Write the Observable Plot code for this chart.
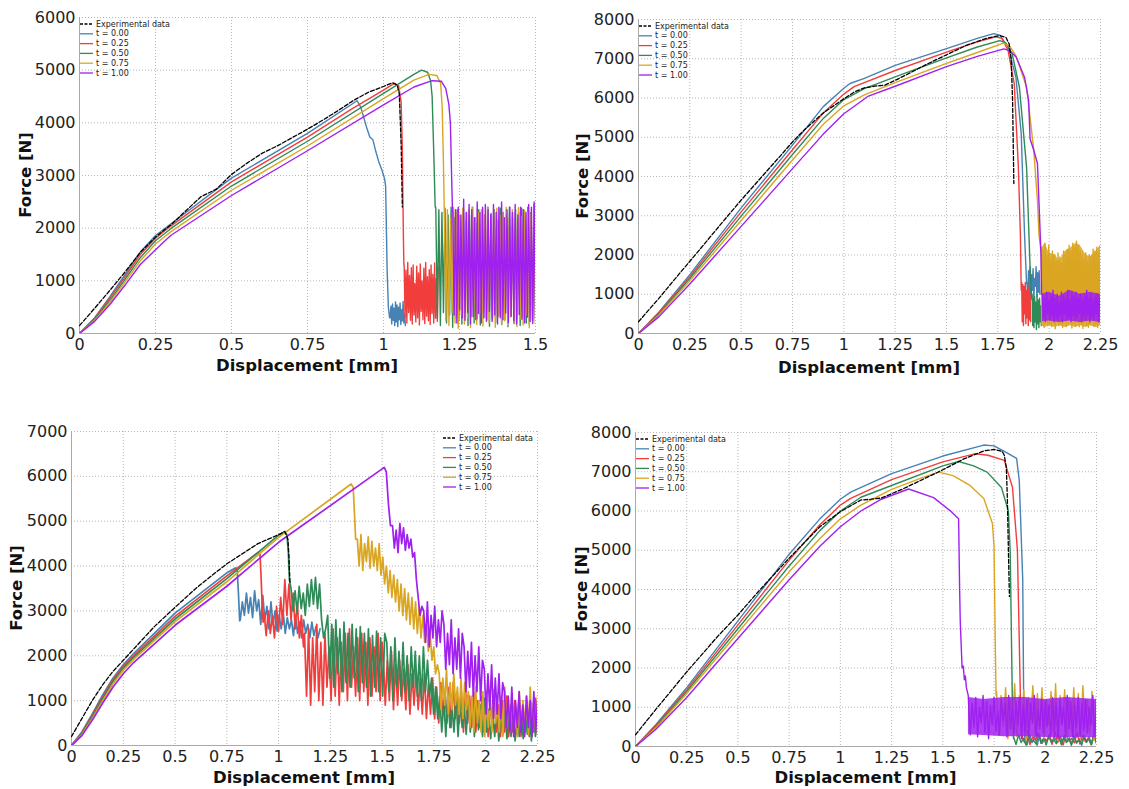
<!DOCTYPE html>
<html><head><meta charset="utf-8">
<script src="https://cdn.jsdelivr.net/npm/d3@7"></script>
<script src="https://cdn.jsdelivr.net/npm/@observablehq/plot@0.6"></script>
<style>
body{margin:0;background:#fff;width:1129px;height:789px;overflow:hidden;position:relative;font-family:"DejaVu Sans",sans-serif;}
.panel{position:absolute;}
</style></head><body>
<div id="p1" class="panel" style="left:0px;top:0px"></div>
<div id="p2" class="panel" style="left:565px;top:0px"></div>
<div id="p3" class="panel" style="left:0px;top:410px"></div>
<div id="p4" class="panel" style="left:565px;top:410px"></div>
<script>
// ---------- shared ----------
const seriesLabels = ["t = 0.00","t = 0.25","t = 0.50","t = 0.75","t = 1.00"];
const expLabel = "Experimental data";
const seriesColors = ["#4682b4","#f23d3d","#2e8b57","#daa520","#a020f0"];
const xTicks15 = [0,0.25,0.5,0.75,1,1.25,1.5];
const xTicks225 = [0,0.25,0.5,0.75,1,1.25,1.5,1.75,2,2.25];
const yTicks6000 = [0,1000,2000,3000,4000,5000,6000];
const yTicks7000 = [0,1000,2000,3000,4000,5000,6000,7000];
const yTicks8000 = [0,1000,2000,3000,4000,5000,6000,7000,8000];
const xTitle = "Displacement [mm]";
const yTitle = "Force [N]";

// ---------- panel 1 (top-left) ----------
const p1Exp = [[0,150],[0.05,480],[0.1,820],[0.15,1170],[0.2,1540],[0.25,1830],[0.3,2060],[0.35,2330],[0.4,2600],[0.45,2740],[0.5,3020],[0.55,3230],[0.6,3420],[0.65,3560],[0.7,3720],[0.75,3880],[0.8,4050],[0.85,4230],[0.9,4420],[0.95,4580],[1.0,4690],[1.03,4760],[1.045,4720],[1.052,4550],[1.058,3600],[1.062,2400]];
const p1T0 = [[0,0],[0.05,300],[0.1,700],[0.15,1120],[0.2,1550],[0.25,1860],[0.3,2080],[0.5,2950],[0.75,3800],[0.913,4420],[0.925,4300],[0.935,4100],[0.945,3900],[0.955,3730],[0.965,3680],[0.975,3450],[0.985,3250],[0.995,3100],[1.003,2950],[1.007,2800],[1.012,1200],[1.016,500],[1.02,300]];
const p1T25 = [[0,0],[0.05,290],[0.1,670],[0.15,1080],[0.2,1500],[0.25,1810],[0.3,2040],[0.5,2880],[0.75,3730],[0.9,4280],[1.0,4620],[1.035,4750],[1.05,4700],[1.058,4400],[1.062,3500],[1.065,2000],[1.067,1300]];
const p1T50 = [[0,0],[0.05,270],[0.1,630],[0.15,1030],[0.2,1440],[0.25,1760],[0.3,1990],[0.5,2800],[0.75,3650],[1.0,4560],[1.1,4920],[1.125,5000],[1.145,4960],[1.155,4800],[1.16,4500],[1.165,3500],[1.17,2400]];
const p1T75 = [[0,0],[0.05,250],[0.1,590],[0.15,980],[0.2,1380],[0.25,1700],[0.3,1930],[0.5,2720],[0.75,3560],[1.0,4460],[1.1,4810],[1.15,4920],[1.175,4900],[1.188,4750],[1.193,4300],[1.197,3300],[1.2,2300]];
const p1T100 = [[0,0],[0.05,230],[0.1,550],[0.15,920],[0.2,1310],[0.27,1700],[0.3,1860],[0.5,2620],[0.75,3470],[1.0,4340],[1.1,4680],[1.16,4800],[1.19,4790],[1.205,4650],[1.215,4350],[1.22,4000],[1.224,3000],[1.227,2300]];
const p1N0 = [300,520,180,560,250,480,150,600,220,540,130,500,260,580,170,450,240,610,200,380,150];
const p1N25 = [1300,300,1200,200,1350,400,1100,250,1250,180,1300,350,950,220,1280,300,1150,160,1320,420,1000,260,1240,190,1350,330,1080,240,1210,170,1300,380,1120,200,1340,290,1050,230,1260];
const p1N50 = [2400,300,2350,150,2300,400,2380,200,2250,350,2400,120,2200,300,2350,250,2150,180,2380,400,2300,150,2250,320,2400,200,2100,280,2350,160,2300,380,2200,230,2400,140,2280,300,2350,210,2150,350,2380,170,2300,260,2250,130,2400,330,2200,190,2350,280,2300,150,2380,310,2250,200,2400,170,2300,260,2450,200];
const p1N75 = [2300,250,2350,150,2200,400,2400,200,2300,100,2250,350,2380,180,2150,300,2350,120,2400,260,2200,170,2300,380,2350,140,2250,300,2400,200,2180,260,2330,120,2380,320,2250,180,2300,240,2400,150,2200,310,2350,190,2280,130,2390,270,2220,160,2340,350,2300,110,2260,240,2400,180];
const p1N100 = [2300,350,2350,200,2400,450,2250,300,2550,250,2300,400,2450,180,2350,320,2200,260,2500,380,2300,200,2400,300,2450,250,2350,420,2250,230,2450,350,2300,180,2400,300,2500,260,2200,390,2350,210,2400,330,2300,240,2450,180,2250,360,2400,270,2350,200,2300,310,2450,230,2400,190,2500,280];

// ---------- panel 2 (top-right) ----------
const p2Exp = [[0,300],[0.1,900],[0.2,1530],[0.3,2150],[0.4,2780],[0.5,3400],[0.6,3990],[0.7,4580],[0.75,4880],[0.8,5150],[0.9,5620],[1.0,5980],[1.05,6150],[1.1,6260],[1.15,6300],[1.2,6330],[1.25,6450],[1.3,6580],[1.4,6850],[1.5,7100],[1.6,7350],[1.7,7530],[1.76,7590],[1.79,7540],[1.805,7380],[1.815,7000],[1.822,5900],[1.826,4500],[1.828,3820]];
const p2T0 = [[0,0],[0.1,550],[0.25,1500],[0.5,3200],[0.75,4800],[0.9,5780],[1.0,6250],[1.03,6370],[1.1,6500],[1.25,6830],[1.5,7260],[1.65,7520],[1.73,7640],[1.76,7600],[1.8,7290],[1.838,6530],[1.864,5090],[1.88,2540],[1.89,1270]];
const p2T25 = [[0,0],[0.1,530],[0.25,1450],[0.5,3100],[0.75,4680],[0.9,5620],[1.0,6100],[1.05,6290],[1.25,6700],[1.5,7170],[1.65,7430],[1.74,7560],[1.77,7520],[1.8,7210],[1.83,6360],[1.85,4240],[1.86,2500],[1.864,1100]];
const p2T50 = [[0,0],[0.1,500],[0.25,1400],[0.5,2990],[0.75,4560],[0.9,5480],[1.0,5960],[1.1,6240],[1.25,6540],[1.5,7020],[1.65,7300],[1.76,7460],[1.79,7400],[1.82,7120],[1.855,6280],[1.89,4240],[1.907,1700],[1.915,900]];
const p2T75 = [[0,0],[0.1,470],[0.25,1340],[0.5,2880],[0.75,4420],[0.9,5330],[1.0,5800],[1.1,6080],[1.25,6390],[1.5,6880],[1.65,7160],[1.777,7400],[1.81,7300],[1.838,7080],[1.89,6280],[1.925,4670],[1.943,3390],[1.95,2540],[1.96,2100]];
const p2T100 = [[0,0],[0.1,430],[0.25,1260],[0.5,2730],[0.75,4200],[0.9,5080],[1.0,5600],[1.12,6050],[1.25,6300],[1.5,6800],[1.65,7060],[1.78,7250],[1.81,7200],[1.84,7040],[1.88,6530],[1.9,5940],[1.907,4960],[1.925,4670],[1.943,4330],[1.95,3390],[1.96,2040],[1.963,1020]];
const p2N0 = [1300,900,1600,1000,1700,850,1500,1100,1650,900,1400,1200,1700,950,1550,1050,1600,1000];
const p2N25 = [1300,300,1250,200,1200,500,1300,250,1100,400,1250,200,1150,350,1000,300];
const p2N50 = [1000,200,900,150,950,300,800,100,1000,250,850,150,900,300,700,200];
const p2N75 = [2200,300,2100,150,2300,400,2000,200,2250,250,1900,180,2100,350,2000,120,1850,300,2050,200,1950,250,1800,150,2100,300,2000,180,2150,220,2250,350,2100,140,2300,260,2200,190,2350,300,2250,170,2100,250,2000,130,1900,280,2050,200,1850,160,2000,240,1950,300,2150,180,2100,220,2200,150,2050,260,2250];
const p2N100 = [1000,400,900,300,1050,500,850,350,950,450,1100,300,900,400,1000,350,800,450,1050,300,950,500,900,350,1100,400,850,300,1000,450,950,350,1050,400,900,500,1000,300,850,400,950,350,1100,450,900,300,1000,400,850,350,950,500,1000,300,900,450];
// band envelopes [x, low, high]
const p2B75 = [[1.962,200,2150],[1.98,150,2300],[2.0,200,2050],[2.03,150,2000],[2.05,200,1850],[2.08,150,2100],[2.1,200,2150],[2.13,150,2300],[2.15,200,2250],[2.18,150,2000],[2.2,200,1950],[2.23,150,2100],[2.25,200,2250]];
const p2B100 = [[1.967,300,1000],[2.0,320,1050],[2.05,280,950],[2.1,320,1100],[2.15,280,1000],[2.2,320,1050],[2.25,280,1000]];

// ---------- panel 3 (bottom-left) ----------
const p3Exp = [[0,200],[0.05,600],[0.1,1000],[0.15,1350],[0.2,1650],[0.25,1900],[0.3,2150],[0.4,2650],[0.5,3080],[0.6,3500],[0.7,3870],[0.75,4050],[0.8,4200],[0.9,4500],[0.95,4600],[1.0,4700],[1.03,4770],[1.045,4600],[1.05,4200],[1.055,3600]];
const p3T0 = [[0,0],[0.05,300],[0.1,700],[0.15,1120],[0.2,1500],[0.25,1800],[0.3,2050],[0.5,2950],[0.75,3850],[0.793,3960],[0.8,3900],[0.806,3400],[0.812,2780]];
const p3T25 = [[0,0],[0.05,280],[0.1,670],[0.15,1080],[0.2,1460],[0.25,1760],[0.3,2000],[0.5,2880],[0.75,3780],[0.9,4300],[0.91,4260],[0.915,3800],[0.92,3200],[0.925,2750]];
const p3T50 = [[0,0],[0.05,260],[0.1,640],[0.15,1040],[0.2,1420],[0.25,1720],[0.3,1960],[0.5,2820],[0.75,3720],[1.0,4690],[1.03,4770],[1.04,4700],[1.047,4300],[1.052,3700]];
const p3T75 = [[0,0],[0.05,240],[0.1,600],[0.15,990],[0.2,1370],[0.25,1680],[0.3,1920],[0.5,2760],[0.75,3650],[1.0,4640],[1.35,5830],[1.36,5760],[1.366,5200],[1.372,4600]];
const p3T100 = [[0,0],[0.05,220],[0.1,560],[0.15,940],[0.2,1300],[0.25,1600],[0.3,1850],[0.5,2680],[0.75,3550],[1.0,4530],[1.51,6200],[1.52,6100],[1.53,5400],[1.54,4900]];
const p3N0 = [2800,3200,2900,3400,2950,3300,2850,3450,3000,3250,2700,3350,2800,3100,2600,3200,2700,3000,2550,2900,2600,2950,2500,2850,2600,2800,2450,2900,2500,2750,2400,2800,2500,2700,2400,2750,2450,2650,2400,2600];
const p3N25a = [2950,2450,3000,2500,2900,2400,3100,2550,3300,2700,3700,2900,3600,2800,3400,2600,3200,2400,2900,2200];
const p3N25b = [2500,1100,2600,900,2400,1200,2700,1000,2300,900,2500,1300,2200,1000,2600,1100,2400,900,2300,1200,2500,1000,2600,1300,2200,1100,2400,1000,2500,1200,2300,900,2400,1100,2200,1200,2500,1000,2300];
const p3N25c = [2000,900,1900,1000,2100,800,1800,900,1900,1000,1700,800,1800,700,1600,900,1700,800,1500,700,1600,600,1400,700,1500,600,1300,500,1400,700,1200,500,1300,400,1400,600,1100,500,1200,300,1300,500,1100,400,1200,300,1000,400,1100,300,1200,200,1000,400,1100,300,900,200,1000,300,1100,200,900,300,1000,250,1100,200,900,300,1000,200,950,300,1050,250];
const p3N50 = [3500,3000,3450,2950,3550,3050,3400,2900,3600,3100,3700,3150,3750,3050,3600,2800,2400,2600,2900,1500,2700,1300,2800,1600,2600,1200,2750,1400,2500,1300,2700,1500,2600,1200,2650,1400,2500,1300,2600,1100,2450,1300,2550,1200,2400,1100,2500,2300,1200,2200,1000,2400,1300,2100,1100,2300,1200,2000,1000,2200,1300,2100,1100,2000,1000,2200,1200,1900,1100,1500,700,1300,600,1100,300,1000,200,1200,400,900,300,1100,200,1000,400,900,250,1050,300,950,200,1000,350,900,200,1050,300,800,150,700,200,900,100,650,250,800,150,700,200,850,100,600,200,750,150,700,250,800,100,650,200,750];
const p3N75 = [4600,4000,4700,3900,4500,4100,4650,3950,4550,4000,4400,3900,4500,3800,4200,3600,4000,3400,3900,3300,3800,3200,3700,3000,3600,2900,3500,2800,3400,2700,3300,2600,3200,2500,3100,2400,2900,2300,2700,2100,2500,1900,2200,1600,1800,1600,800,1500,900,1700,700,1400,800,1600,900,1300,700,1500,600,1400,800,1200,400,1100,300,1300,500,1000,300,1200,200,1100,400,1000,300,1250,500,900,300,1100,200,1300,400,1000,300,1150,500,900,200,1200,400,1000,300,1100,250,1300,400,1050,300,1100];
const p3N100 = [4900,4400,4800,4300,4950,4500,4850,4350,4700,4400,4600,4200,4300,3700,3300,2900,3100,3000,2300,3200,2200,2900,2400,3100,2200,2800,2300,3000,2700,1700,2500,1800,2800,1600,2400,1700,2600,1500,2500,2200,1200,2100,1300,2300,1100,2000,1200,2200,1000,1900,1700,700,1600,800,1800,600,1500,700,1600,600,1400,1200,400,1100,300,1300,200,1000,400,1200,300,900,200,1100,400,1000,200,1200,300,1000];

// ---------- panel 4 (bottom-right) ----------
const p4Exp = [[0,300],[0.1,950],[0.25,1900],[0.4,2800],[0.5,3350],[0.6,3950],[0.75,4800],[0.9,5600],[1.0,5980],[1.1,6280],[1.15,6300],[1.2,6330],[1.3,6550],[1.4,6800],[1.5,7050],[1.6,7320],[1.7,7530],[1.75,7570],[1.79,7520],[1.8,7420],[1.81,7100],[1.815,6300],[1.82,5000],[1.825,3820]];
const p4T0 = [[0,0],[0.1,560],[0.25,1500],[0.5,3200],[0.75,4900],[0.9,5800],[1.0,6300],[1.05,6480],[1.25,6950],[1.5,7400],[1.7,7680],[1.75,7660],[1.8,7520],[1.86,7340],[1.873,6780],[1.89,4240],[1.895,900],[1.9,200]];
const p4T25 = [[0,0],[0.1,540],[0.25,1450],[0.5,3100],[0.75,4750],[0.9,5650],[1.0,6150],[1.05,6320],[1.25,6800],[1.5,7250],[1.66,7460],[1.72,7420],[1.8,7290],[1.84,6600],[1.864,5000],[1.88,900],[1.885,200]];
const p4T50 = [[0,0],[0.1,510],[0.25,1400],[0.5,3000],[0.75,4600],[0.9,5500],[1.0,6000],[1.1,6350],[1.25,6650],[1.5,7150],[1.577,7260],[1.65,7150],[1.716,6990],[1.786,6600],[1.82,6000],[1.829,4920],[1.833,3460],[1.84,900],[1.845,200]];
const p4T75 = [[0,0],[0.1,480],[0.25,1350],[0.5,2900],[0.75,4450],[0.9,5300],[1.0,5800],[1.1,6150],[1.25,6550],[1.4,6850],[1.48,6990],[1.55,6900],[1.63,6660],[1.7,6320],[1.742,5680],[1.75,5090],[1.756,2600],[1.76,1300]];
const p4T100 = [[0,0],[0.1,440],[0.25,1250],[0.5,2750],[0.75,4250],[0.9,5100],[1.0,5600],[1.1,6000],[1.2,6300],[1.333,6560],[1.455,6340],[1.54,5990],[1.577,5800],[1.582,4000],[1.585,3200],[1.594,2000],[1.6,2050],[1.605,1700],[1.61,1800],[1.615,1500],[1.624,1300]];
const p4N0 = [200,50,300,100,250,30,280,80,200,150,300,60,250,100,180,40,300,120,220,70,260,90,200,30,280,110,240,60,300,80];
const p4N25 = [300,100,400,50,250,150,350,80,200,120,300,60,380,100,250,40,320,140,200,90,350,60,280,120,220,50,300,100];
const p4N50 = [250,50,300,100,200,30,280,120,150,60,300,80,220,40,260,110,180,70,300,50,240,100,200,30,280,90,160,60,250,110,200,40,300,80];
const p4N75 = [1400,300,1300,500,1500,200,1200,600,1600,250,1300,400,1450,150,1250,700,1550,300,1350,450,1500,200,1200,550,1400,350,1600,150,1300,600,1450,250,1250,400,1500,300,1350,200,1550,500,1200,350,1400,150,1300];
const p4N100 = [1200,300,1100,500,1250,250,1000,600,1300,350,1150,200,1050,550,1250,400,900,300,1200,650,1100,250,1300,450,1000,350,1150,550,1250,200,1050,400,1200,300,1100,600,1300,250,950,450,1200,350,1150,500,1050,300,1250,400,1100,200,1200,550,1000,350,1300,450,1150,250,1050,500,1250,300,1100,400,1200,350,1000,550,1300,250,1150];
const p4B100 = [[1.625,300,1250],[1.7,280,1200],[1.8,250,1250],[1.9,250,1250],[2.0,230,1200],[2.1,220,1250],[2.25,220,1200]];

// ---------- build ----------
function buildSeries(curve, segments) {
  const pts = curve.map(([x, y]) => ({x, y}));
  for (const [a, b, vals] of segments) {
    const n = vals.length;
    vals.forEach((y, i) => pts.push({x: a + (b - a) * i / (n - 1), y}));
  }
  return pts;
}

const panels = [
  {id:"p1", w:560, h:380, ml:79, mr:25, mt:17, mb:47, xd:[0,1.5], xt:xTicks15, yd:[0,6000], yt:yTicks6000, sw:1.4,
   exp:p1Exp, sims:[[p1T0,[[1.022,1.072,p1N0]]],[p1T25,[[1.068,1.18,p1N25]]],[p1T50,[[1.172,1.5,p1N50]]],[p1T75,[[1.2,1.5,p1N75]]],[p1T100,[[1.228,1.5,p1N100]]]],
   bands:[null,null,null,null,null], legend:"left", yTitleX:25, xTitleY:365},
  {id:"p2", w:564, h:380, ml:73, mr:29, mt:19, mb:47, xd:[0,2.25], xt:xTicks225, yd:[0,8000], yt:yTicks8000, sw:1.4,
   exp:p2Exp, sims:[[p2T0,[[1.892,1.955,p2N0]]],[p2T25,[[1.866,1.91,p2N25]]],[p2T50,[[1.917,1.962,p2N50]]],[p2T75,[[1.962,2.25,p2N75]]],[p2T100,[[1.967,2.25,p2N100]]]],
   bands:[null,null,null,p2B75,p2B100], legend:"left", yTitleX:17, xTitleY:367},
  {id:"p3", w:560, h:379, ml:71, mr:23, mt:21, mb:44, xd:[0,2.25], xt:xTicks225, yd:[0,7000], yt:yTicks7000, sw:1.7,
   exp:p3Exp, sims:[[p3T0,[[0.815,1.2,p3N0]]],[p3T25,[[0.93,1.12,p3N25a],[1.125,1.5,p3N25b],[1.505,2.25,p3N25c]]],[p3T50,[[1.06,2.25,p3N50]]],[p3T75,[[1.38,2.25,p3N75]]],[p3T100,[[1.55,2.25,p3N100]]]],
   bands:[null,null,null,null,null], legend:"right", yTitleX:16, xTitleY:367},
  {id:"p4", w:564, h:379, ml:70, mr:33, mt:22, mb:43, xd:[0,2.25], xt:xTicks225, yd:[0,8000], yt:yTicks8000, sw:1.4,
   exp:p4Exp, sims:[[p4T0,[[1.9,2.25,p4N0]]],[p4T25,[[1.885,2.25,p4N25]]],[p4T50,[[1.845,2.25,p4N50]]],[p4T75,[[1.762,2.25,p4N75]]],[p4T100,[[1.625,2.25,p4N100]]]],
   bands:[null,null,null,null,p4B100], legend:"left", yTitleX:16, xTitleY:367}
];

const fmt = d => String(d);

for (const p of panels) {
  const simMarks = [];
  p.sims.forEach(([curve, segs], i) => {
    const band = p.bands[i];
    if (band) simMarks.push(Plot.areaY(band.map(([x, lo, hi]) => ({x, lo, hi})),
      {x:"x", y1:"lo", y2:"hi", fill:seriesColors[i], fillOpacity:0.85, clip:true}));
    simMarks.push(Plot.line(buildSeries(curve, segs),
      {x:"x", y:"y", stroke:seriesColors[i], strokeWidth:p.sw, strokeLinejoin:"round", clip:true}));
  });
  const expData = p.exp.map(([x, y]) => ({x, y}));
  const chart = Plot.plot({
    width:p.w, height:p.h, marginLeft:p.ml, marginRight:p.mr, marginTop:p.mt, marginBottom:p.mb,
    x:{domain:p.xd}, y:{domain:p.yd},
    style:{fontFamily:"'DejaVu Sans', sans-serif", fontSize:"16px", color:"#222", background:"transparent", overflow:"visible"},
    marks:[
      Plot.gridX(p.xt, {stroke:"#999", strokeOpacity:0.7, strokeDasharray:"1,2"}),
      Plot.gridY(p.yt, {stroke:"#999", strokeOpacity:0.7, strokeDasharray:"1,2"}),
      Plot.ruleX([p.xd[0]], {stroke:"#aaa"}),
      Plot.ruleY([p.yd[0]], {stroke:"#aaa"}),
      ...simMarks,
      Plot.line(expData, {x:"x", y:"y", stroke:"#000", strokeWidth:1.3, strokeDasharray:"4,2", clip:true}),
      Plot.axisX(p.xt, {tickSize:0, tickPadding:5, tickFormat:fmt, label:null, fontSize:16}),
      Plot.axisY(p.yt, {tickSize:0, tickPadding:4, tickFormat:fmt, label:null, fontSize:16})
    ]
  });
  document.getElementById(p.id).appendChild(chart);
  const svg = d3.select(chart);
  const plotL = p.ml, plotR = p.w - p.mr, plotT = p.mt, plotB = p.h - p.mb;
  // axis titles
  svg.append("text").attr("x", (plotL + plotR) / 2).attr("y", p.xTitleY)
    .attr("text-anchor","middle").attr("dominant-baseline","central")
    .attr("font-weight","bold").attr("font-size","16.5px").attr("fill","#111").text(xTitle);
  svg.append("text").attr("transform", `translate(${p.yTitleX},${(plotT + plotB) / 2}) rotate(-90)`)
    .attr("text-anchor","middle").attr("dominant-baseline","central")
    .attr("font-weight","bold").attr("font-size","16.5px").attr("fill","#111").text(yTitle);
  // legend
  const lx = p.legend === "left" ? plotL + 1 : plotR - 94;
  const g = svg.append("g").attr("font-size","8px").attr("fill","#222").attr("text-anchor","start");
  const rows = [{label:expLabel, color:"#000", dash:"3,1.5"}].concat(seriesLabels.map((l, i) => ({label:l, color:seriesColors[i], dash:null})));
  rows.forEach((r, i) => {
    const y = plotT + 7 + i * 9.8;
    const ln = g.append("line").attr("x1", lx).attr("x2", lx + 13).attr("y1", y).attr("y2", y)
      .attr("stroke", r.color).attr("stroke-width", 1.3);
    if (r.dash) ln.attr("stroke-dasharray", r.dash);
    g.append("text").attr("x", lx + 16).attr("y", y).attr("text-anchor","start").attr("dominant-baseline","central").text(r.label);
  });
}
</script>
</body></html>
